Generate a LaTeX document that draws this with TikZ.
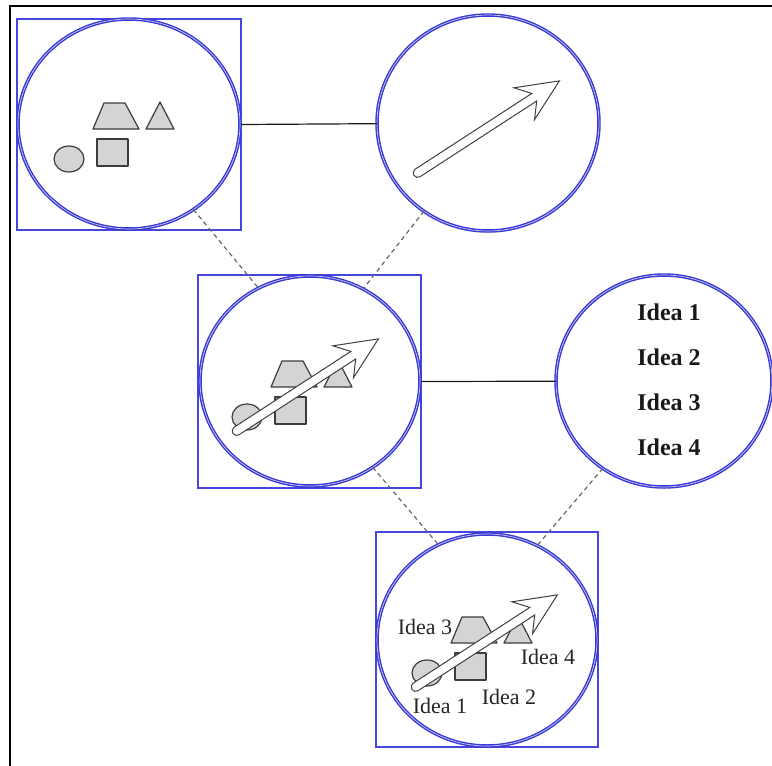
\documentclass[tikz,border=0pt]{standalone}
\usepackage{fontspec}
\setmainfont{Liberation Serif}
\usetikzlibrary{shapes.geometric}

\definecolor{ringblue}{RGB}{55,55,212}
\definecolor{boxblue}{RGB}{70,70,222}
\definecolor{shapefill}{RGB}{212,212,212}
\definecolor{shapeline}{RGB}{60,60,60}

\tikzset{
  ring/.style={ellipse, draw=ringblue, line width=1.4pt, double=white!75!ringblue,
    double distance=0.7pt, inner sep=0pt, outer sep=0pt},
  framebox/.style={rectangle, draw=boxblue, line width=1.6pt, inner sep=0pt, outer sep=0pt},
  link/.style={black!90, line width=1.2pt},
  dashlink/.style={black!60, line width=1.2pt, dash pattern=on 4.5pt off 3.5pt},
  shp/.style={draw=shapeline, fill=shapefill, line width=1.2pt, line join=round},
  arrowbody/.style={draw=black!75, fill=white, line width=1pt, line join=miter},
  idea/.style={font=\fontsize{22}{22}\selectfont, text=black!85, inner sep=0pt},
  bigidea/.style={font=\fontsize{24}{24}\selectfont\bfseries, text=black!90, inner sep=0pt},
  % group of four grey figures, centred on the ring centre
  shapeset/.pic={
    \draw[shp] (-36,5) -- (-25,-21) -- (-4,-21) -- (10,5) -- cycle;
    \draw[shp] (17,5) -- (31,-22) -- (45,5) -- cycle;
    \draw[shp] (-32,15) rectangle (-1,42);
    \draw[shp] (-60,35) ellipse [x radius=15, y radius=13];
  },
  % hollow block arrow, tail at the origin, pointing along +x
  blockarrow/.pic={
    \draw[arrowbody] (2,-4.5) -- (141,-4.5) -- (129,-19) -- (171,0)
      -- (129,19) -- (141,4.5) -- (2,4.5) arc[start angle=90, end angle=270, radius=4.5] -- cycle;
  }
}

\begin{document}
\begin{tikzpicture}[x=1pt,y=-1pt]
\useasboundingbox (0,0) rectangle (772,766);

% page frame (top and left rules)
\draw[line width=2.4pt] (10,766) -- (10,6) -- (772,6);

% square frames
\node[framebox, minimum width=224pt, minimum height=211pt] (b1) at (129,124.5) {};
\node[framebox, minimum width=223pt, minimum height=213pt] (b3) at (309.5,381.5) {};
\node[framebox, minimum width=222pt, minimum height=215pt] (b5) at (487,639.5) {};

% rings
\node[ring, minimum width=222pt, minimum height=210pt] (c1) at (129,124) {};
\node[ring, minimum width=222pt, minimum height=216pt] (c2) at (488,123) {};
\node[ring, minimum width=220pt, minimum height=210pt] (c3) at (310,381) {};
\node[ring, minimum width=216pt, minimum height=212pt] (c4) at (664,381) {};
\node[ring, minimum width=220pt, minimum height=212pt] (c5) at (487,640) {};

% solid links
\draw[link] (b1.east) -- (c2);
\draw[link] (b3.east) -- (c4);

% dashed links
\draw[dashlink] (c1.-53) -- (c3.119);
\draw[dashlink] (c2.-126) -- (c3.60);
\draw[dashlink] (c3.-54) -- (c5.117);
\draw[dashlink] (c4.-125) -- (c5.62);

% contents of the rings
\pic at (129,124) {shapeset};
\pic[rotate=33] at (416,174) {blockarrow};
\pic at (307,382) {shapeset};
\pic[rotate=33] at (235,432) {blockarrow};
\pic at (487,638) {shapeset};
\pic[rotate=33] at (414,688) {blockarrow};

% list of ideas
\node[bigidea] (i1) at (669,312) {Idea 1};
\node[bigidea] (i2) at (669,357) {Idea 2};
\node[bigidea] (i3) at (669,402) {Idea 3};
\node[bigidea] (i4) at (669,447) {Idea 4};

% ideas attached to the figures
\node[idea] (l3) at (425,627) {Idea 3};
\node[idea] (l4) at (548,657) {Idea 4};
\node[idea] (l2) at (509,697) {Idea 2};
\node[idea] (l1) at (440,706) {Idea 1};
\end{tikzpicture}
\end{document}
